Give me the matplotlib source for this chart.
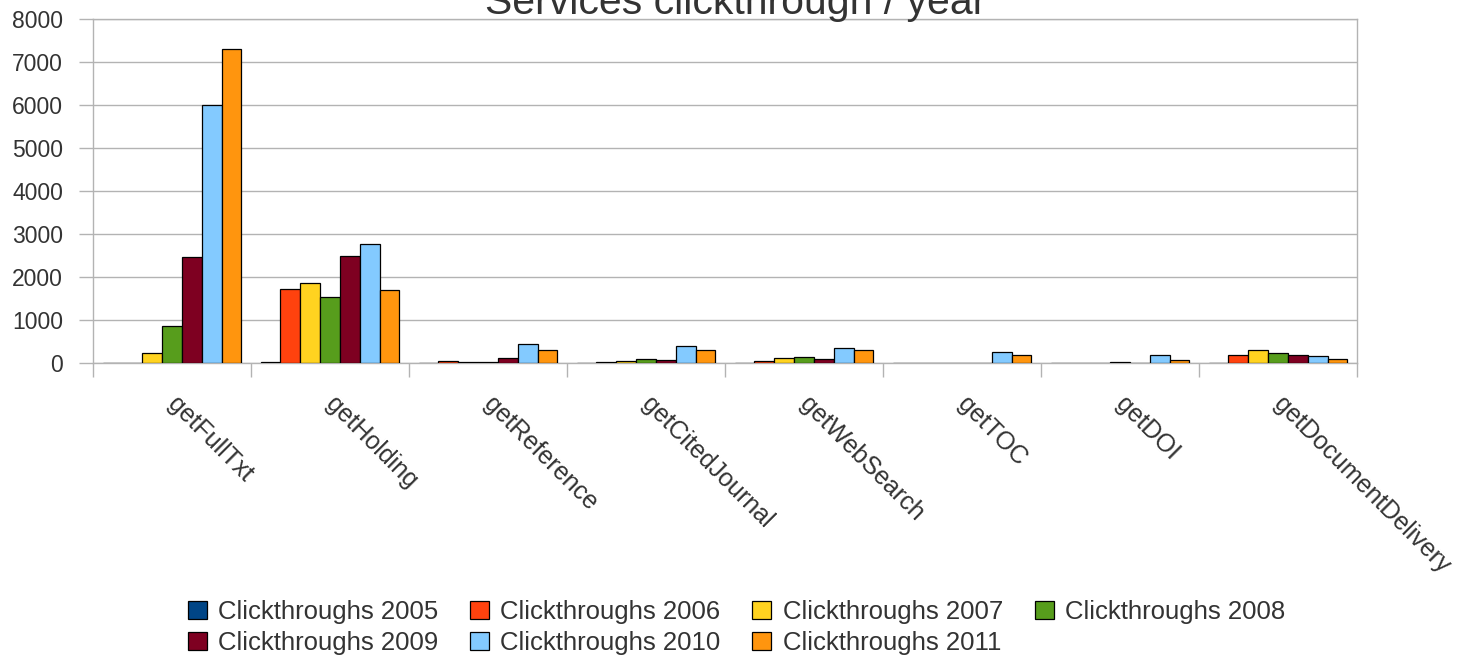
import matplotlib.pyplot as plt
import numpy as np

plt.rcParams['font.family'] = ['Liberation Sans', 'DejaVu Sans']

# --- chart data ---
services = ["getFullTxt", "getHolding", "getReference", "getCitedJournal",
            "getWebSearch", "getTOC", "getDOI", "getDocumentDelivery"]
years = ["2005", "2006", "2007", "2008", "2009", "2010", "2011"]

clicks_2005 = [0, 20, 5, 5, 5, 0, 5, 10]
clicks_2006 = [10, 1720, 50, 20, 45, 0, 10, 195]
clicks_2007 = [230, 1850, 15, 45, 110, 0, 10, 310]
clicks_2008 = [850, 1540, 30, 85, 130, 5, 20, 235]
clicks_2009 = [2470, 2500, 120, 60, 95, 10, 10, 195]
clicks_2010 = [6000, 2760, 435, 400, 340, 265, 195, 160]
clicks_2011 = [7300, 1690, 295, 295, 295, 180, 70, 100]

series = [clicks_2005, clicks_2006, clicks_2007, clicks_2008,
          clicks_2009, clicks_2010, clicks_2011]
colors = ["#004586", "#ff420e", "#ffd320", "#579d1c",
          "#7e0021", "#83caff", "#ff950e"]

# --- figure ---
fig = plt.figure(figsize=(14.64, 6.61), dpi=100)
ax = fig.add_axes([0.0635, 0.4508, 0.8634, 0.5205])

x = np.arange(len(services))
width = 0.1256
handles = []
for i, (vals, col, yr) in enumerate(zip(series, colors, years)):
    offset = (i - 3) * width
    b = ax.bar(x + offset, vals, width, color=col, edgecolor="black",
               linewidth=0.9, label="Clickthroughs " + yr, zorder=3)
    handles.append(b)

ax.set_xlim(-0.5, len(services) - 0.5)
ax.set_ylim(0, 8000)
ax.set_yticks(np.arange(0, 8001, 1000))

grid_col = "#b3b3b3"
ax.yaxis.grid(True, color=grid_col, linewidth=1.0, zorder=0)
for s in ax.spines.values():
    s.set_color(grid_col)
    s.set_linewidth(1.0)

# category labels at centres, tick marks at group boundaries
ax.set_xticks(x)
ax.set_xticklabels(services, rotation=-45, ha="left", va="center",
                   rotation_mode="anchor")
ax.set_xticks(np.arange(-0.5, len(services), 1.0), minor=True)
ax.tick_params(axis="x", which="major", length=0, pad=27,
               labelsize=18, labelcolor="#333333")
ax.tick_params(axis="x", which="minor", length=10, width=1.0,
               color=grid_col, direction="out")
ax.tick_params(axis="y", length=10, width=1.0, color=grid_col,
               labelsize=16.5, labelcolor="#333333", pad=11.5)

# title is mostly cut off at the top edge in the reference
fig.text(0.5024, 0.979, "Services clickthrough / year", ha="center",
         va="baseline", fontsize=29.5, color="#333333")

# legend is filled row by row in the reference; matplotlib fills by column
order = [0, 4, 1, 5, 2, 6, 3]
fig.legend([handles[k] for k in order],
           ["Clickthroughs " + years[k] for k in order],
           loc="center", bbox_to_anchor=(0.503, 0.0505), ncol=4,
           frameon=False, fontsize=18.5, handlelength=0.74, handleheight=0.7,
           handletextpad=0.43, columnspacing=1.25, labelspacing=0.3,
           labelcolor="#333333")

fig.savefig("out.png", dpi=100)
